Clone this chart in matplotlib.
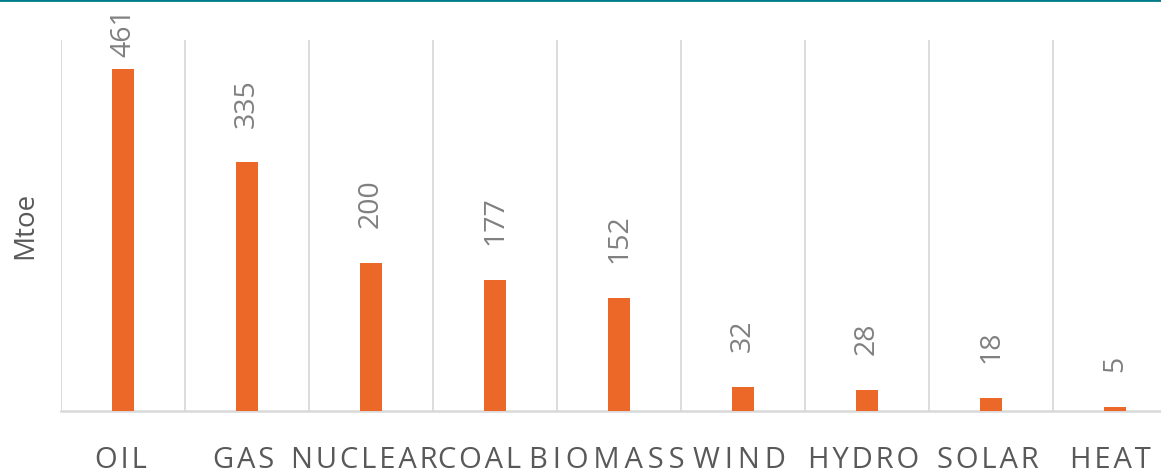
import matplotlib
matplotlib.use("Agg")
import matplotlib.pyplot as plt
import matplotlib.transforms as mtransforms
import numpy as np
from matplotlib.lines import Line2D

# Energy consumption by source (Mtoe)
categories = ["OIL", "GAS", "NUCLEAR", "COAL", "BIOMASS", "WIND", "HYDRO", "SOLAR", "HEAT"]
values = [461, 335, 200, 177, 152, 32, 28, 18, 5]

bar_color = "#EC6829"
grid_color = "#D9D9D9"
text_dark = "#595959"
text_light = "#808080"
fonts = ["Open Sans", "DejaVu Sans"]

fig = plt.figure(figsize=(11.61, 4.72), dpi=100)
ax = fig.add_axes([61 / 1161, 61 / 472, 1116 / 1161, 371 / 472])

x = np.arange(len(categories))
ax.bar(x, values, width=0.18, color=bar_color, zorder=3)

ymax = 500
ax.set_xlim(-0.5, len(categories) - 0.5)
ax.set_ylim(0, ymax)

# vertical separators between categories
ax.set_xticks(np.arange(-0.5, len(categories)), minor=True)
ax.grid(which="minor", axis="x", color=grid_color, linewidth=1.3, zorder=0)
ax.tick_params(which="both", length=0)

# letter-spaced category labels (a little looser on the wide-glyph words)
tracking = ["\u200a", "\u200a", "\u200a", "\u200a", "\u2009", "\u2009", "\u200a", "\u200a", "\u200a"]
spaced = [sep.join(c) for c, sep in zip(categories, tracking)]
ax.set_xticks(x)
ax.set_xticklabels(spaced, fontsize=21, color=text_dark, family=fonts)
ax.tick_params(axis="x", pad=25)
ax.set_yticks([])

# crowded labels in the middle are nudged left so they butt against each other
nudge_px = [-2, -3, -7, -15, -12, -4, -3, -3, -5]
for lbl, dx in zip(ax.get_xticklabels(), nudge_px):
    lbl.set_transform(lbl.get_transform()
                      + mtransforms.ScaledTranslation(dx / 100, 0, fig.dpi_scale_trans))

for side in ["top", "right", "left"]:
    ax.spines[side].set_visible(False)
ax.spines["bottom"].set_color(grid_color)
ax.spines["bottom"].set_linewidth(1.8)

ax.set_ylabel("Mtoe", fontsize=20, color=text_dark, family=fonts, labelpad=16)

# rotated value labels above bars; the tallest is held just under the top
offset = 47
label_cap = 477
for xi, v in zip(x, values):
    ax.text(xi, min(v + offset, label_cap), str(v), rotation=90, ha="center", va="bottom",
            fontsize=20.5, color=text_light, family=fonts, clip_on=False)

# teal rule along the top edge
fig.add_artist(Line2D([0, 1], [1.0, 1.0], transform=fig.transFigure,
                      color="#007B8A", linewidth=2.0))

fig.savefig("out.png", dpi=100)
